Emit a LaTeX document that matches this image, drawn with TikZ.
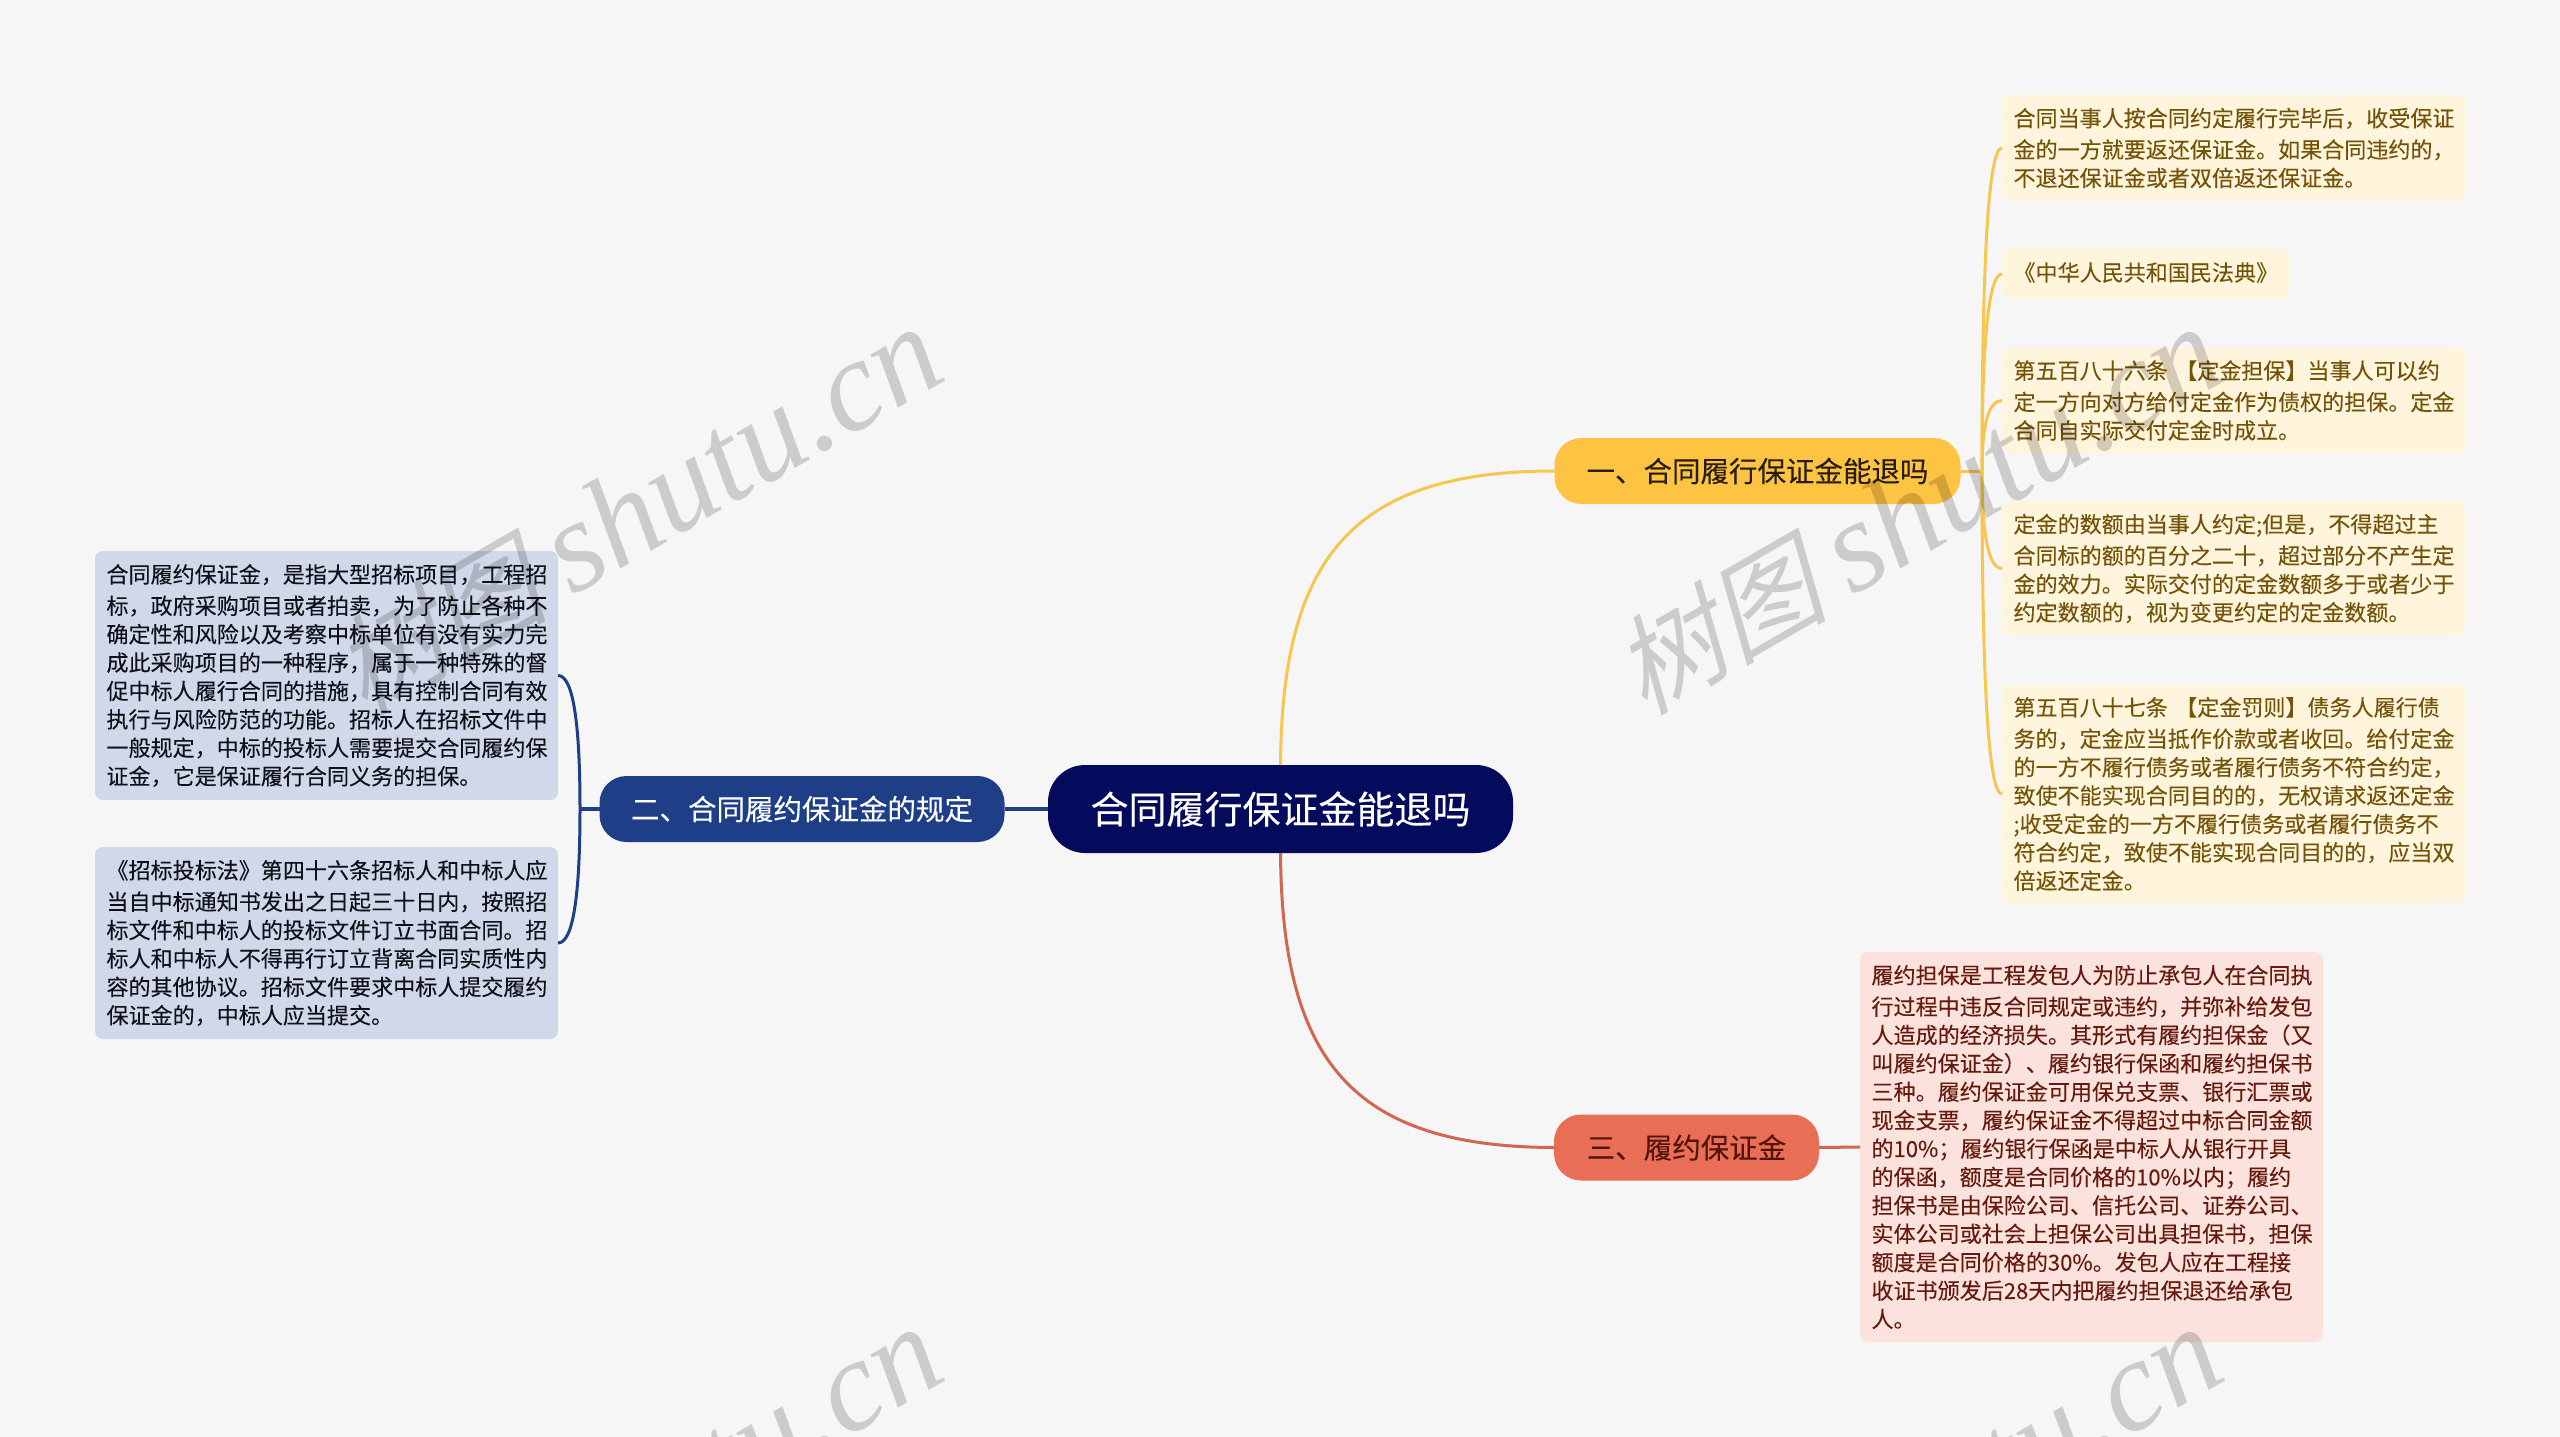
\documentclass[tikz,border=0pt]{standalone}
\usepackage{fontspec}
\usetikzlibrary{calc}
\setmainfont[FakeBold=0.12]{Noto Sans CJK SC}
\newfontfamily\wmcjk[FakeSlant=0.25]{Noto Sans CJK SC}
\newfontfamily\wmlat{Liberation Serif Italic}
\definecolor{bgc}{HTML}{F6F6F6}
\definecolor{rootc}{HTML}{050B5C}
\definecolor{yelc}{HTML}{FDC443}
\definecolor{yelleaf}{HTML}{FFF4DC}
\definecolor{yeltxt}{HTML}{735308}
\definecolor{yellink}{HTML}{F6C64E}
\definecolor{blc}{HTML}{1F3E88}
\definecolor{blleaf}{HTML}{D1D8E9}
\definecolor{bltxt}{HTML}{0E1118}
\definecolor{redc}{HTML}{E86F56}
\definecolor{redleaf}{HTML}{FBE2DC}
\definecolor{redtxt}{HTML}{661A0E}
\definecolor{redlink}{HTML}{D2664E}
\tikzset{
 leafbox/.style={rectangle,rounded corners=8pt,inner sep=0pt,outer sep=0pt,align=left,
   text width=#1-23pt,minimum width=#1,font=\fontsize{22.05}{28.4}\selectfont,
   execute at begin node={\lineskiplimit=-60pt\vspace*{3pt}}},
 yleaf/.style={leafbox=464pt,fill=yelleaf,text=yeltxt},
 bleaf/.style={leafbox=463pt,fill=blleaf,text=bltxt},
 rleaf/.style={leafbox=463pt,fill=redleaf,text=redtxt},
 branch/.style={rectangle,rounded corners=27pt,inner sep=0pt,outer sep=0pt,minimum height=66pt,
   font=\fontsize{28.5}{32}\selectfont},
 rootbox/.style={rectangle,rounded corners=37pt,inner sep=0pt,outer sep=0pt,minimum width=465pt,minimum height=88pt,
   fill=rootc,text=white,font=\fontsize{38}{42}\selectfont},
 link/.style={line width=3pt},
 wmark/.style={rotate=30,anchor=base east,text=black,text opacity=.17,inner sep=0pt},
}
\newcommand{\wmtext}{{\fontsize{108}{120}\selectfont\wmcjk 树图 }{\fontsize{130}{134}\selectfont\wmlat shutu.cn}}
\begin{document}
\begin{tikzpicture}[x=1pt,y=-1pt]
\useasboundingbox (0,0) rectangle (2560,1437);
\fill[bgc] (0,0) rectangle (2560,1437);
\coordinate (ty) at (1982,471);
\coordinate (tb) at (580,809);

\node[rootbox] (root) at (1280.5,809) {合同履行保证金能退吗};
\node[branch,fill=yelc,text=black!85!yelc,minimum width=406pt] (b1) at (1757.5,471) {一、合同履行保证金能退吗};
\node[branch,fill=blc,text=white,minimum width=405pt] (b2) at (802,809) {二、合同履约保证金的规定};
\node[branch,fill=redc,text=redtxt!80!black,minimum width=265pt] (b3) at (1686.5,1147.5) {三、履约保证金};

\node[yleaf,minimum height=106pt] (y1) at (2234,148) {合同当事人按合同约定履行完毕后，收受保证\\金的一方就要返还保证金。如果合同违约的，\\不退还保证金或者双倍返还保证金。};
\node[leafbox=287pt,fill=yelleaf,text=yeltxt,minimum height=50pt] (y2) at (2145.5,274) {《中华人民共和国民法典》};
\node[yleaf,minimum height=105pt] (y3) at (2234,400.5) {第五百八十六条 【定金担保】当事人可以约\\定一方向对方给付定金作为债权的担保。定金\\合同自实际交付定金时成立。};
\node[yleaf,minimum height=135pt] (y4) at (2234,568.5) {定金的数额由当事人约定;但是，不得超过主\\合同标的额的百分之二十，超过部分不产生定\\金的效力。实际交付的定金数额多于或者少于\\约定数额的，视为变更约定的定金数额。};
\node[yleaf,minimum height=218pt] (y5) at (2234,794) {第五百八十七条 【定金罚则】债务人履行债\\务的，定金应当抵作价款或者收回。给付定金\\的一方不履行债务或者履行债务不符合约定，\\致使不能实现合同目的的，无权请求返还定金\\;收受定金的一方不履行债务或者履行债务不\\符合约定，致使不能实现合同目的的，应当双\\倍返还定金。};

\node[bleaf,minimum height=249pt] (l1) at (326.5,675.5) {合同履约保证金，是指大型招标项目，工程招\\标，政府采购项目或者拍卖，为了防止各种不\\确定性和风险以及考察中标单位有没有实力完\\成此采购项目的一种程序，属于一种特殊的督\\促中标人履行合同的措施，具有控制合同有效\\执行与风险防范的功能。招标人在招标文件中\\一般规定，中标的投标人需要提交合同履约保\\证金，它是保证履行合同义务的担保。};
\node[bleaf,minimum height=192pt] (l2) at (326.5,943) {《招标投标法》第四十六条招标人和中标人应\\当自中标通知书发出之日起三十日内，按照招\\标文件和中标人的投标文件订立书面合同。招\\标人和中标人不得再行订立背离合同实质性内\\容的其他协议。招标文件要求中标人提交履约\\保证金的，中标人应当提交。};

\node[rleaf,minimum height=390pt] (r1) at (2091.5,1147) {履约担保是工程发包人为防止承包人在合同执\\行过程中违反合同规定或违约，并弥补给发包\\人造成的经济损失。其形式有履约担保金（又\\叫履约保证金）、履约银行保函和履约担保书\\三种。履约保证金可用保兑支票、银行汇票或\\现金支票，履约保证金不得超过中标合同金额\\的10\%；履约银行保函是中标人从银行开具\\的保函，额度是合同价格的10\%以内；履约\\担保书是由保险公司、信托公司、证券公司、\\实体公司或社会上担保公司出具担保书，担保\\额度是合同价格的30\%。发包人应在工程接\\收证书颁发后28天内把履约担保退还给承包\\人。};

% main links
\draw[link,yellink] (root.north) .. controls (1282,560) and (1350,471) .. (b1.west);
\draw[link,redlink] (root.south) .. controls (1282,1058) and (1350,1147) .. (b3.west);
\draw[blc,line width=4pt] (root.west) -- (b2.east);
% yellow
\draw[link,yellink] (b1.east) -- (ty);
\foreach \n in {y1,y2,y3,y4,y5}
  \draw[link,yellink] (ty) .. controls ($(ty)!.667!(ty |- \n.west)$) and ($(\n.west)!.667!(ty |- \n.west)$) .. (\n.west);
% blue
\draw[blc,line width=4pt] (b2.west) -- (tb);
\foreach \n in {l1,l2}
  \draw[link,blc] (tb) .. controls ($(tb)!.667!(tb |- \n.east)$) and ($(\n.east)!.667!(tb |- \n.east)$) .. (\n.east);
% red
\draw[link,redlink] (b3.east) -- (r1.west);

% watermarks
\node[wmark] (w1) at (951,378) {\wmtext};
\node[wmark] (w2) at (2231,378) {\wmtext};
\node[wmark] (w3) at (951,1378) {\wmtext};
\node[wmark] (w4) at (2231,1378) {\wmtext};
\end{tikzpicture}
\end{document}
